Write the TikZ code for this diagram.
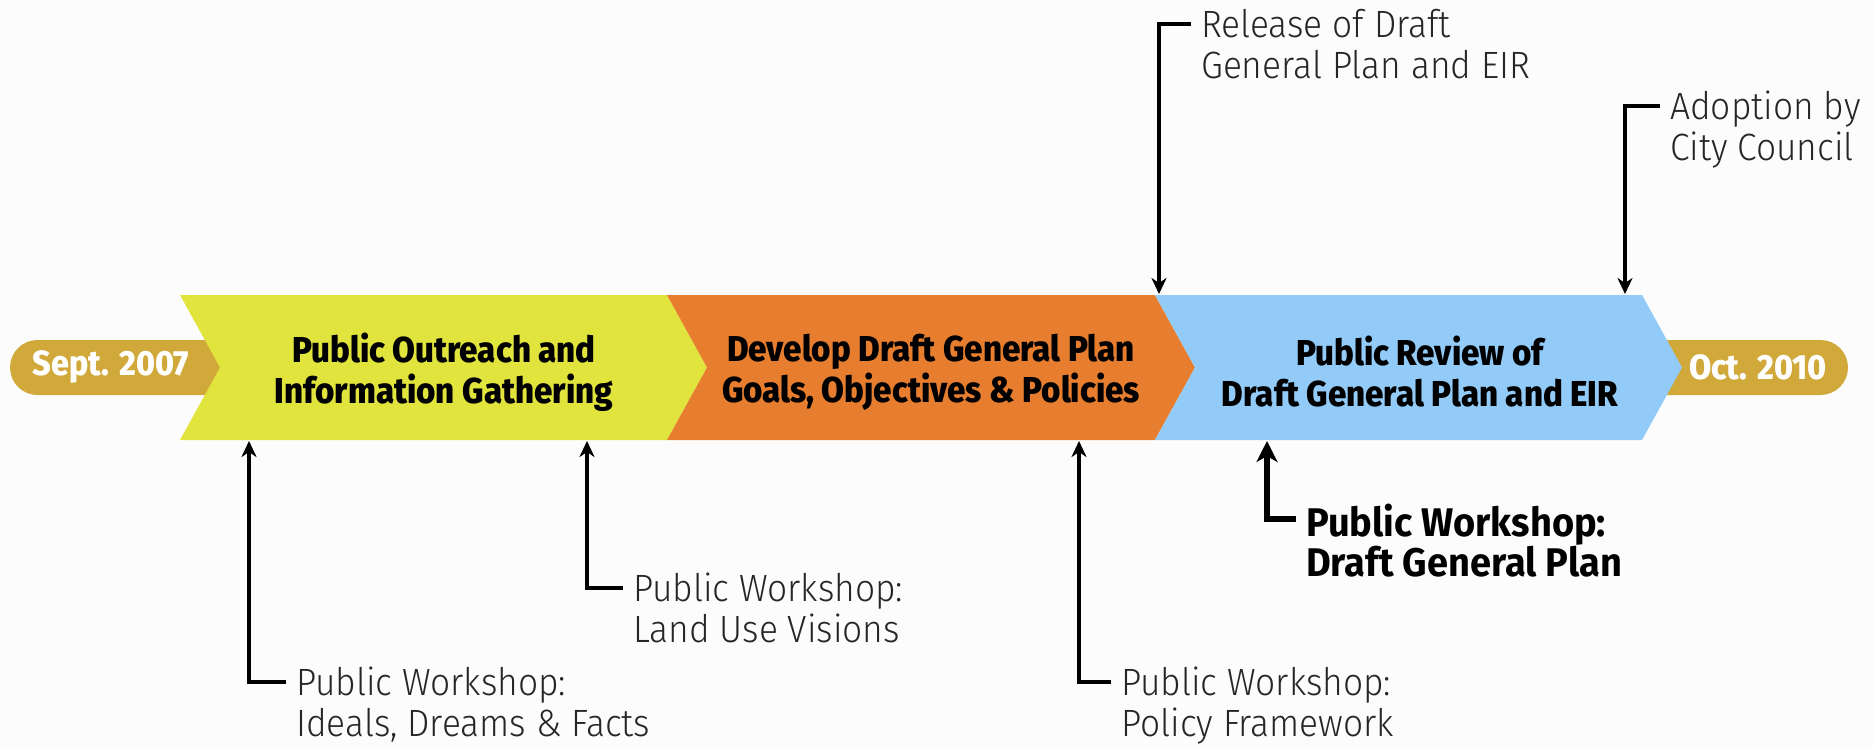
\documentclass[tikz,border=0pt]{standalone}
\usepackage{fontspec}
\setmainfont{Fira Sans}[FakeStretch=0.95]
\newfontfamily\lightfont{Fira Sans Light}[FakeStretch=0.93]
\newfontfamily\heavyfont{Fira Sans ExtraBold}[FakeStretch=0.92]
\usetikzlibrary{arrows.meta}

\definecolor{phaseyellow}{RGB}{224,228,60}
\definecolor{phaseorange}{RGB}{231,126,47}
\definecolor{phaseblue}{RGB}{147,203,248}
\definecolor{dategold}{RGB}{209,169,58}

\begin{document}
\begin{tikzpicture}[x=1pt, y=-1pt,
    phasetxt/.style={font=\fontsize{36}{41}\selectfont\heavyfont, align=center},
    datetag/.style={font=\fontsize{35}{40}\selectfont\heavyfont, text=white},
    notetxt/.style={font=\fontsize{38}{41}\selectfont\lightfont, align=left, anchor=north west,
        inner xsep=10pt, inner ysep=0pt, text=black!85},
    keynote/.style={notetxt, font=\fontsize{40}{38}\selectfont\bfseries, text=black},
    leader/.style={line width=3.5pt, -{Stealth[length=16pt,width=15pt,inset=5pt]}},
    keyleader/.style={line width=6pt, -{Stealth[length=21pt,width=21pt,inset=6pt]}}
]

    % Canvas
    \fill[black!1] (0,0) rectangle (1874,747);
    \useasboundingbox (0,0) rectangle (1874,747);

    %% Timeline

    % Start and end dates
    \fill[dategold, rounded corners=27.5pt] (10,340) rectangle (240,395);
    \fill[dategold, rounded corners=27.5pt] (1640,340) rectangle (1848,395);
    \node[datetag] (start) at (111,367) {Sept. 2007};
    \node[datetag] (finish) at (1758,367) {Oct. 2010};

    % Phases
    \fill[phaseyellow] (180,295) -- (667,295) -- (707,367.5) -- (667,440) -- (180,440) -- (220,367.5) -- cycle;
    \fill[phaseorange] (667,295) -- (1155,295) -- (1195,367.5) -- (1155,440) -- (667,440) -- (707,367.5) -- cycle;
    \fill[phaseblue] (1155,295) -- (1642,295) -- (1682,367.5) -- (1642,440) -- (1155,440) -- (1195,367.5) -- cycle;

    \node[phasetxt] (outreach) at (444,372) {Public Outreach and\\Information Gathering};
    \node[phasetxt] (develop) at (931,372) {Develop Draft General Plan\\Goals, Objectives \& Policies};
    \node[phasetxt] (review) at (1420,372) {Public Review of\\Draft General Plan and EIR};

    %% Milestones

    % Workshops below the band
    \coordinate (ideals-tip) at (249,441);
    \coordinate (landuse-tip) at (587,441);
    \coordinate (policy-tip) at (1079,441);
    \coordinate (draft-tip) at (1267,441);
    \node[notetxt] (ideals) at (286,667) {Public Workshop:\\Ideals, Dreams \& Facts};
    \node[notetxt] (landuse) at (623,573) {Public Workshop:\\Land Use Visions};
    \node[notetxt] (policy) at (1111,667) {Public Workshop:\\Policy Framework};
    \node[keynote] (draft) at (1296,504) {Public Workshop:\\Draft General Plan};

    \draw[leader] ([yshift=-15pt]ideals.north west) -| (ideals-tip);
    \draw[leader] ([yshift=-15pt]landuse.north west) -| (landuse-tip);
    \draw[leader] ([yshift=-15pt]policy.north west) -| (policy-tip);
    \draw[keyleader] ([yshift=-15pt]draft.north west) -| (draft-tip);

    % Release and adoption above the band
    \coordinate (release-tip) at (1159,294);
    \coordinate (adopt-tip) at (1625,294);
    \node[notetxt] (release) at (1191,9) {Release of Draft\\General Plan and EIR};
    \node[notetxt] (adopt) at (1660,91) {Adoption by\\City Council};

    \draw[leader] ([yshift=-15pt]release.north west) -| (release-tip);
    \draw[leader] ([yshift=-15pt]adopt.north west) -| (adopt-tip);

\end{tikzpicture}
\end{document}
